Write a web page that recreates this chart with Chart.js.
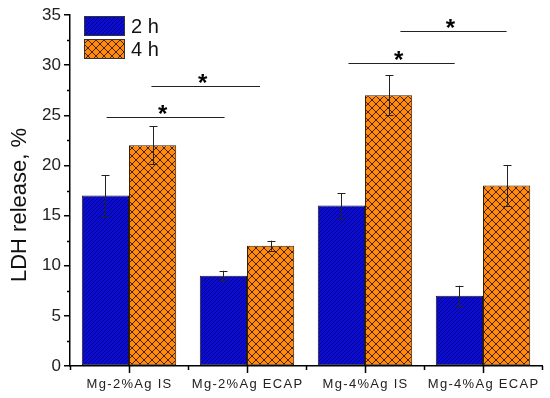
<!DOCTYPE html>
<html>
<head>
<meta charset="utf-8">
<script src="https://cdn.jsdelivr.net/npm/chart.js@4/dist/chart.umd.min.js"></script>
<style>
  html, body { margin: 0; padding: 0; background: #fff; }
  #wrap { width: 550px; height: 398px; }
</style>
</head>
<body>
<div id="wrap"><canvas id="chart" width="550" height="398"></canvas></div>
<script>
// data
const categories = ['Mg-2%Ag IS', 'Mg-2%Ag ECAP', 'Mg-4%Ag IS', 'Mg-4%Ag ECAP'];
const release2h = [17, 9, 16, 7];
const release4h = [22, 12, 27, 18];
const err2h = [2, 0.5, 1.25, 1];
const err4h = [1.9, 0.5, 2, 2];
const yTicks = [0, 5, 10, 15, 20, 25, 30, 35];

// significance brackets, in category-index units
const sigFrom = [-0.19, 0.19, 1.86, 2.30];
const sigTo = [0.81, 1.11, 2.76, 3.20];
const sigLevel = [24.8, 27.9, 30.2, 33.4];

const FONT = 'Arial, "Liberation Sans", sans-serif';

// hatch fills like the Origin plot
function makePattern(size, bg, line, cross) {
  const c = document.createElement('canvas');
  c.width = size; c.height = size;
  const g = c.getContext('2d');
  g.fillStyle = bg;
  g.fillRect(0, 0, size, size);
  g.strokeStyle = line;
  g.lineWidth = 1;
  g.beginPath();
  g.moveTo(-1, size + 1); g.lineTo(size + 1, -1);
  if (cross) { g.moveTo(-1, -1); g.lineTo(size + 1, size + 1); }
  g.stroke();
  return g.createPattern(c, 'repeat');
}
const blueFill = makePattern(4, '#0c0cd2', '#05058c', false);
const orangeFill = makePattern(8, '#ff8a12', '#4a2200', true);

const ctx = document.getElementById('chart').getContext('2d');

const extras = {
  id: 'extras',
  afterDatasetsDraw(chart) {
    const c = chart.ctx;
    const y = chart.scales.y;

    // error bars
    c.save();
    c.strokeStyle = '#222';
    c.lineWidth = 1;
    [err2h, err4h].forEach((errs, di) => {
      const vals = di === 0 ? release2h : release4h;
      chart.getDatasetMeta(di).data.forEach((bar, i) => {
        const top = y.getPixelForValue(vals[i] + errs[i]);
        const bot = y.getPixelForValue(vals[i] - errs[i]);
        const bx = Math.round(bar.x) + 0.5;
        c.beginPath();
        c.moveTo(bx, top); c.lineTo(bx, bot);
        c.moveTo(bx - 4, Math.round(top) + 0.5); c.lineTo(bx + 4, Math.round(top) + 0.5);
        c.moveTo(bx - 4, Math.round(bot) + 0.5); c.lineTo(bx + 4, Math.round(bot) + 0.5);
        c.stroke();
      });
    });
    c.restore();
  },
  afterDraw(chart) {
    const c = chart.ctx;
    const x = chart.scales.x, y = chart.scales.y;
    const area = chart.chartArea;
    const x0 = x.getPixelForValue(0);
    const cw = x.getPixelForValue(1) - x0;

    c.save();
    c.strokeStyle = '#000';
    c.lineWidth = 1.5;
    // y minor ticks
    c.beginPath();
    for (let v = 2.5; v < 35; v += 5) {
      const py = Math.round(y.getPixelForValue(v)) + 0.5;
      c.moveTo(area.left - 3, py); c.lineTo(area.left, py);
    }
    // x ticks: long at centers, short at boundaries
    categories.forEach((_, i) => {
      const px = Math.round(x0 + i * cw) + 0.5;
      c.moveTo(px, area.bottom); c.lineTo(px, area.bottom + 7);
    });
    for (let i = -0.5; i <= 3.5; i += 1) {
      const px = Math.round(x0 + i * cw) + 0.5;
      c.moveTo(px, area.bottom); c.lineTo(px, area.bottom + 4);
    }
    c.stroke();

    // x labels with wide letter spacing
    c.fillStyle = '#222';
    c.font = '13px ' + FONT;
    c.letterSpacing = '1.3px';
    c.textAlign = 'center';
    c.textBaseline = 'middle';
    categories.forEach((lab, i) => {
      c.fillText(lab, x0 + i * cw + 0.6, area.bottom + 18);
    });
    c.letterSpacing = '0px';

    // y axis title
    c.save();
    c.translate(20, 205);
    c.rotate(-Math.PI / 2);
    c.fillStyle = '#111';
    c.font = '22px ' + FONT;
    c.fillText('LDH release, %', 0, 0);
    c.restore();

    // significance lines and stars
    c.strokeStyle = '#222';
    c.lineWidth = 1;
    c.font = 'bold 24px ' + FONT;
    c.textBaseline = 'alphabetic';
    sigLevel.forEach((lv, i) => {
      const a = x0 + sigFrom[i] * cw, b = x0 + sigTo[i] * cw;
      const py = Math.round(y.getPixelForValue(lv)) + 0.5;
      c.beginPath();
      c.moveTo(a, py); c.lineTo(b, py);
      c.stroke();
      c.fillStyle = '#000';
      c.fillText('*', (a + b) / 2 - 3, py + 4);
    });

    // legend
    const lx = area.left + 14;
    [['2 h', blueFill], ['4 h', orangeFill]].forEach(([lab, fill], i) => {
      const ly = area.top + 1 + i * 23;
      c.fillStyle = fill;
      c.fillRect(lx, ly, 41, 20);
      c.strokeStyle = '#333';
      c.lineWidth = 1;
      c.strokeRect(lx + 0.5, ly + 0.5, 40, 19);
      c.fillStyle = '#111';
      c.font = '20px ' + FONT;
      c.textAlign = 'left';
      c.textBaseline = 'middle';
      c.fillText(lab, lx + 47, ly + 11);
    });
    c.restore();
  }
};

new Chart(ctx, {
  type: 'bar',
  data: {
    labels: categories,
    datasets: [
      { label: '2 h', data: release2h, backgroundColor: blueFill, borderColor: '#1a1a1a', borderWidth: 1, borderSkipped: false },
      { label: '4 h', data: release4h, backgroundColor: orangeFill, borderColor: '#3a2000', borderWidth: 1, borderSkipped: false }
    ]
  },
  options: {
    responsive: false,
    animation: false,
    events: [],
    layout: { padding: { top: 15, right: 8, left: 0, bottom: 0 } },
    datasets: { bar: { categoryPercentage: 0.8, barPercentage: 1.0 } },
    plugins: { legend: { display: false }, tooltip: { enabled: false } },
    scales: {
      x: {
        offset: true,
        grid: { display: false },
        border: { display: true, color: '#000', width: 1.5 },
        ticks: { display: false },
        afterFit(scale) { scale.height = 32; }
      },
      y: {
        min: 0,
        max: 35,
        afterBuildTicks(scale) { scale.ticks = yTicks.map(v => ({ value: v })); },
        grid: { drawOnChartArea: false, tickLength: 6, color: '#000', lineWidth: 1.5 },
        border: { display: true, color: '#000', width: 1.5 },
        ticks: {
          color: '#222',
          padding: 3,
          font: { family: FONT, size: 17 }
        },
        afterFit(scale) { scale.width = 70; }
      }
    }
  },
  plugins: [extras]
});
</script>
</body>
</html>
